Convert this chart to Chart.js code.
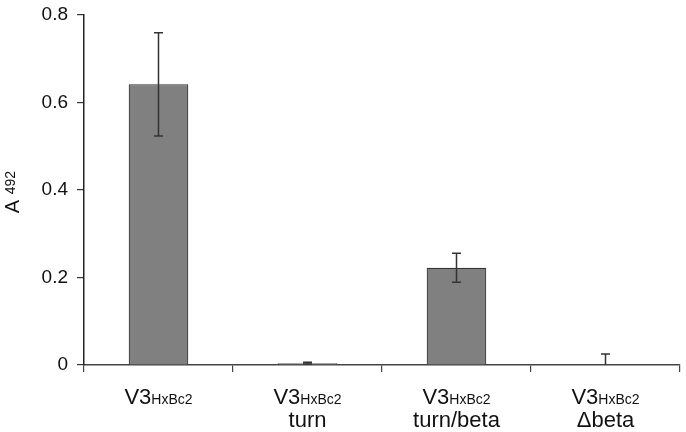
<!DOCTYPE html>
<html>
<head>
<meta charset="utf-8">
<script src="https://cdn.jsdelivr.net/npm/chart.js@4.4.0/dist/chart.umd.min.js"></script>
<style>
  html, body { margin: 0; padding: 0; background: #fff; }
  #wrap { width: 686px; height: 432px; }
</style>
</head>
<body>
<div id="wrap"><canvas id="chart" width="686" height="432"></canvas></div>
<script>
// dados
const labelMain = ['V3', 'V3', 'V3', 'V3'];
const labelSub = ['HxBc2', 'HxBc2', 'HxBc2', 'HxBc2'];
const labelLine2 = ['', 'turn', 'turn/beta', '\u0394beta'];
const values = [0.641, 0.004, 0.222, 0];
const errors = [0.118, 0.002, 0.033, 0.025];
const yTicks = [0, 0.2, 0.4, 0.6, 0.8];

const FONT = '"Liberation Sans", Arial, sans-serif';

// barras de erro
const errorBars = {
  id: 'errorBars',
  afterDatasetsDraw(chart) {
    const ctx = chart.ctx;
    const x = chart.scales.x;
    const y = chart.scales.y;
    const area = chart.chartArea;
    ctx.save();
    ctx.beginPath();
    ctx.rect(area.left, area.top - 5, area.right - area.left, area.bottom - area.top + 5);
    ctx.clip();
    ctx.strokeStyle = '#333';
    ctx.lineWidth = 1.5;
    values.forEach((v, i) => {
      const px = x.getPixelForValue(i);
      const top = y.getPixelForValue(v + errors[i]);
      const bot = y.getPixelForValue(v - errors[i]);
      ctx.beginPath();
      ctx.moveTo(px, top);
      ctx.lineTo(px, bot);
      ctx.moveTo(px - 4.5, top);
      ctx.lineTo(px + 4.5, top);
      ctx.moveTo(px - 4.5, bot);
      ctx.lineTo(px + 4.5, bot);
      ctx.stroke();
    });
    ctx.restore();
  }
};

// rótulos com subscrito
const subLabels = {
  id: 'subLabels',
  afterDraw(chart) {
    const ctx = chart.ctx;
    const x = chart.scales.x;
    ctx.save();
    ctx.fillStyle = '#111';
    ctx.textBaseline = 'alphabetic';
    ctx.textAlign = 'left';
    labelMain.forEach((m, i) => {
      const px = x.getPixelForValue(i);
      ctx.font = '22px ' + FONT;
      const wm = ctx.measureText(m).width;
      ctx.font = '14px ' + FONT;
      const ws = ctx.measureText(labelSub[i]).width;
      const start = px - (wm + ws) / 2;
      ctx.font = '22px ' + FONT;
      ctx.fillText(m, start, 404);
      ctx.font = '14px ' + FONT;
      ctx.fillText(labelSub[i], start + wm, 404);
      if (labelLine2[i]) {
        ctx.font = '22px ' + FONT;
        ctx.textAlign = 'center';
        ctx.fillText(labelLine2[i], px, 427);
        ctx.textAlign = 'left';
      }
    });

    // título do eixo y
    ctx.translate(19, 192);
    ctx.rotate(-Math.PI / 2);
    ctx.font = '20px ' + FONT;
    const wa = ctx.measureText('A ').width;
    ctx.font = '14px ' + FONT;
    const wn = ctx.measureText('492').width;
    const s = -(wa + wn) / 2;
    ctx.font = '20px ' + FONT;
    ctx.fillText('A ', s, 0);
    ctx.font = '14px ' + FONT;
    ctx.fillText('492', s + wa, -4);
    ctx.restore();
  }
};

new Chart(document.getElementById('chart'), {
  type: 'bar',
  data: {
    labels: labelMain.map((m, i) => m + labelSub[i]),
    datasets: [{
      data: values,
      backgroundColor: '#808080',
      borderColor: '#333',
      borderWidth: 1.2,
      barPercentage: 0.8,
      categoryPercentage: 0.5
    }]
  },
  options: {
    responsive: false,
    animation: false,
    devicePixelRatio: 1,
    layout: { padding: { top: 11, right: 6, left: 0, bottom: 0 } },
    plugins: {
      legend: { display: false },
      tooltip: { enabled: false }
    },
    scales: {
      x: {
        grid: { offset: true, drawOnChartArea: false, drawTicks: true, tickLength: 7, color: '#444', lineWidth: 1.2 },
        border: { display: true, color: '#444', width: 1.5 },
        ticks: { display: false },
        afterFit(s) { s.height = 67; }
      },
      y: {
        min: 0,
        max: 0.8,
        afterBuildTicks(s) { s.ticks = yTicks.map(v => ({ value: v })); },
        grid: { drawOnChartArea: false, drawTicks: true, tickLength: 7, color: '#333', lineWidth: 1.2 },
        border: { display: true, color: '#222', width: 1.5 },
        ticks: {
          color: '#111',
          padding: 9,
          font: { family: FONT, size: 19, lineHeight: 0.6 },
          callback: v => v === 0 ? '0' : v.toFixed(1)
        },
        afterFit(s) { s.width = 84; }
      }
    }
  },
  plugins: [errorBars, subLabels]
});
</script>
</body>
</html>
